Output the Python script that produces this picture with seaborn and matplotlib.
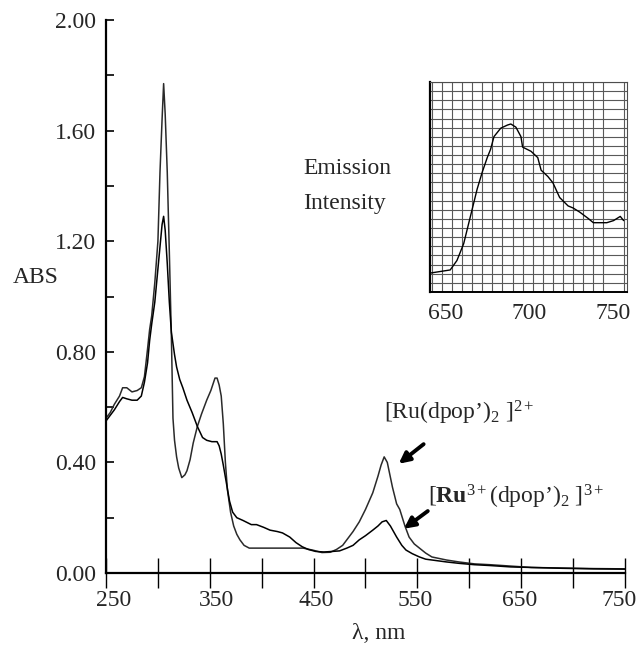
import numpy as np
import pandas as pd
import seaborn as sns
import matplotlib.pyplot as plt
from matplotlib.ticker import MultipleLocator, FixedLocator
from matplotlib.transforms import ScaledTranslation

# absorption spectra
wl_ru2 = [250, 254, 258, 263, 266, 270, 275, 280, 284, 287, 290, 292, 294, 297, 300,
          302, 304, 305.5, 307, 309, 311, 313, 314.5, 316, 318, 320, 323, 326, 328,
          331, 334, 338, 342, 347, 351, 355, 357, 359, 361, 363, 365, 367, 370, 373,
          376, 379, 383, 388, 400, 420, 440, 450, 458, 466, 472, 478, 482, 488, 494,
          500, 507, 512, 515, 518, 521, 526, 530, 533, 538, 542, 547, 552, 558, 564,
          578, 590, 605, 620, 640, 660, 690, 720, 750]
abs_ru2 = [0.56, 0.58, 0.61, 0.64, 0.67, 0.67, 0.655, 0.66, 0.67, 0.71, 0.81, 0.88, 0.93,
           1.05, 1.20, 1.45, 1.64, 1.77, 1.66, 1.45, 1.16, 0.85, 0.56, 0.48, 0.42, 0.38,
           0.345, 0.355, 0.37, 0.41, 0.47, 0.53, 0.575, 0.625, 0.66, 0.705, 0.705, 0.68,
           0.64, 0.54, 0.40, 0.30, 0.22, 0.17, 0.14, 0.12, 0.10, 0.09, 0.09, 0.09, 0.09,
           0.082, 0.074, 0.075, 0.085, 0.10, 0.12, 0.15, 0.185, 0.23, 0.29, 0.35, 0.39,
           0.42, 0.40, 0.31, 0.25, 0.23, 0.17, 0.13, 0.105, 0.09, 0.072, 0.058, 0.047,
           0.04, 0.033, 0.03, 0.025, 0.02, 0.018, 0.016, 0.015]

wl_ru3 = [250, 254, 258, 263, 266, 270, 275, 280, 284, 287, 290, 292, 294, 297, 300,
          302, 304, 305.5, 307, 309, 311, 313, 316, 318, 321, 324, 328, 333, 338, 343,
          347, 352, 357, 359, 361, 363, 366, 369, 372, 376, 382, 390, 395, 402, 408,
          415, 420, 427, 433, 439, 445, 452, 460, 468, 475, 482, 488, 494, 500, 507,
          512, 516, 520, 524, 530, 535, 539, 545, 552, 558, 564, 578, 590, 605, 620,
          640, 660, 690, 720, 750]
abs_ru3 = [0.55, 0.57, 0.59, 0.62, 0.635, 0.63, 0.625, 0.625, 0.64, 0.69, 0.76, 0.84,
           0.90, 0.98, 1.10, 1.18, 1.26, 1.29, 1.24, 1.12, 0.98, 0.87, 0.79, 0.745, 0.70,
           0.67, 0.625, 0.58, 0.53, 0.49, 0.48, 0.475, 0.475, 0.46, 0.43, 0.39, 0.325,
           0.26, 0.22, 0.20, 0.19, 0.175, 0.175, 0.165, 0.155, 0.15, 0.145, 0.13, 0.11,
           0.095, 0.085, 0.078, 0.076, 0.078, 0.08, 0.09, 0.10, 0.12, 0.135, 0.155, 0.17,
           0.185, 0.19, 0.17, 0.13, 0.10, 0.083, 0.07, 0.058, 0.05, 0.047, 0.04, 0.035,
           0.03, 0.027, 0.022, 0.02, 0.017, 0.015, 0.014]

# emission inset (arbitrary units)
wl_em = [641, 653, 657, 661, 665, 669, 672, 675, 677, 679, 683, 687, 689, 692, 695, 696,
         701, 705, 707, 711, 714, 718, 723, 726, 730, 735, 738, 742, 746, 750, 754, 756]
em_int = [0.09, 0.105, 0.15, 0.23, 0.36, 0.49, 0.57, 0.64, 0.68, 0.74, 0.78, 0.795, 0.80,
          0.785, 0.74, 0.69, 0.67, 0.64, 0.58, 0.55, 0.52, 0.45, 0.41, 0.40, 0.38, 0.35,
          0.33, 0.33, 0.33, 0.34, 0.36, 0.34]

y_ticks = [0.0, 0.4, 0.8, 1.2, 1.6, 2.0]
x_ticks = [250, 350, 450, 550, 650, 750]
em_ticks = [650, 700, 750]

sns.set_theme(style="white")
plt.rcParams['font.family'] = ['Liberation Serif', 'DejaVu Serif']
plt.rcParams['mathtext.fontset'] = 'custom'
plt.rcParams['mathtext.rm'] = 'Liberation Serif'
plt.rcParams['mathtext.it'] = 'Liberation Serif:italic'
plt.rcParams['mathtext.bf'] = 'Liberation Serif:bold'
FS = 17

fig = plt.figure(figsize=(6.41, 6.46), dpi=100)
ax = fig.add_axes([0.1654, 0.113, 0.8096, 0.856])

df = pd.concat([
    pd.DataFrame({'wl': wl_ru2, 'abs': abs_ru2, 'species': 'Ru2'}),
    pd.DataFrame({'wl': wl_ru3, 'abs': abs_ru3, 'species': 'Ru3'}),
])
sns.lineplot(data=df, x='wl', y='abs', hue='species', palette={'Ru2': '#2a2a2a', 'Ru3': 'black'},
             estimator=None, sort=False, lw=1.1, legend=False, ax=ax)

ax.set_xlim(250, 750)
ax.set_ylim(0, 2.0)
ax.set_xlabel('')
ax.set_ylabel('')
for s in ['top', 'right']:
    ax.spines[s].set_visible(False)
for s in ['left', 'bottom']:
    ax.spines[s].set_linewidth(1.6)
    ax.spines[s].set_color('black')

ax.yaxis.set_major_locator(FixedLocator(y_ticks))
ax.set_yticklabels([f'{v:.2f}' for v in y_ticks], fontsize=FS)
ax.yaxis.set_minor_locator(MultipleLocator(0.2))
ax.tick_params(axis='y', which='both', direction='in', length=5.5, width=1.2,
               left=True, pad=7, color='black')

ax.xaxis.set_major_locator(FixedLocator(x_ticks))
ax.set_xticklabels([str(v) for v in x_ticks], fontsize=FS)
ax.xaxis.set_minor_locator(MultipleLocator(50))
ax.tick_params(axis='x', which='both', direction='inout', length=21, width=1.0,
               bottom=True, pad=2, color='black')
# the scanned labels sit a little off their ticks
for lab, dx in zip(ax.get_xticklabels(), [8, 7, 3, -2, -2, -6]):
    lab.set_transform(lab.get_transform() + ScaledTranslation(dx / 100, 0, fig.dpi_scale_trans))

fig.text(13 / 641, 1 - 277 / 646, 'ABS', fontsize=FS, va='center', ha='left')
fig.text(0.59, 0.02, 'λ, nm', fontsize=FS, va='center', ha='center')

# labels with arrows
ax.text(518, 0.58, r"[Ru(dpop’)$_2$ ]$^{2+}$", fontsize=FS, va='center', ha='left')
ax.text(560, 0.275, r"[$\mathbf{Ru}^{3+}$(dpop’)$_2$ ]$^{3+}$", fontsize=FS, va='center', ha='left')
arrow = dict(arrowstyle='-|>', lw=2.8, color='black', mutation_scale=16, shrinkA=0, shrinkB=0)
ax.annotate('', xy=(532, 0.395), xytext=(556, 0.466), arrowprops=arrow)
ax.annotate('', xy=(537, 0.160), xytext=(560, 0.224), arrowprops=arrow)

# emission inset on graph paper
axi = fig.add_axes([430 / 641, 1 - 292 / 646, 197 / 641, 210 / 646])
sns.lineplot(x=wl_em, y=em_int, color='black', lw=1.0, estimator=None, sort=False, ax=axi)
axi.set_xlim(641, 758)
axi.set_ylim(0, 1)
axi.xaxis.set_major_locator(FixedLocator(em_ticks))
axi.set_xticklabels([str(v) for v in em_ticks], fontsize=FS)
axi.xaxis.set_minor_locator(MultipleLocator(6))
axi.yaxis.set_major_locator(MultipleLocator(1 / 23))
axi.set_yticklabels([])
axi.tick_params(axis='both', which='both', length=0, pad=8)
axi.grid(True, which='minor', axis='x', color='0.35', lw=0.8)
axi.grid(True, which='major', axis='y', color='0.35', lw=0.8)
axi.set_axisbelow(True)
for s in axi.spines.values():
    s.set_color('0.3')
    s.set_linewidth(0.8)
axi.spines['left'].set_color('black')
axi.spines['left'].set_linewidth(1.6)
axi.spines['bottom'].set_color('black')
axi.spines['bottom'].set_linewidth(1.4)

fig.text(303 / 641, 1 - 168 / 646, 'Emission', fontsize=FS, va='center', ha='left')
fig.text(303 / 641, 1 - 203 / 646, 'Intensity', fontsize=FS, va='center', ha='left')

fig.savefig('out.png', dpi=100)
